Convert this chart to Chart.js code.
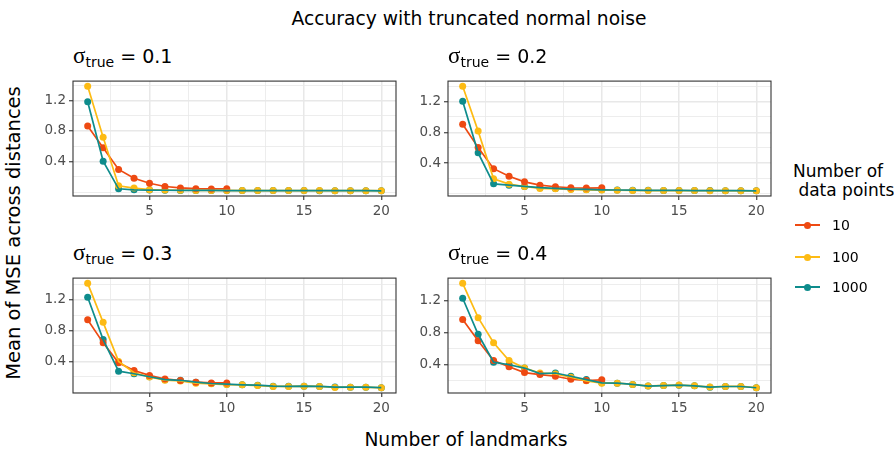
<!DOCTYPE html>
<html>
<head>
<meta charset="utf-8">
<title>Accuracy with truncated normal noise</title>
<script src="https://cdn.jsdelivr.net/npm/chart.js@4.4.1/dist/chart.umd.min.js"></script>
<style>
  body {
    margin: 0;
    width: 894px;
    height: 451px;
    position: relative;
    overflow: hidden;
    background: #fff;
    font-family: "DejaVu Sans", sans-serif;
    color: #000;
  }
  .panel { position: absolute; }
  .txt { position: absolute; white-space: pre; line-height: 1; }
  #title { left: 469px; top: 10px; font-size: 18.7px; transform: translateX(-50%); }
  #xtitle { left: 466px; top: 431px; font-size: 18.7px; transform: translateX(-50%); }
  #ytitle { left: 14px; top: 233px; font-size: 19.5px; transform: translate(-50%, -50%) rotate(-90deg); }
  .facet { font-size: 19px; }
  .facet .sig { font-family: "Liberation Serif", serif; font-size: 23px; }
  .facet sub { font-size: 14px; vertical-align: -4px; line-height: 0; }
  #legend-title { left: 793px; top: 162px; font-size: 17px; line-height: 19px; }
  .key { position: absolute; left: 795px; width: 25px; height: 2px; margin-top: -1px; }
  .key::after {
    content: ""; position: absolute; left: 9px; top: -2.5px;
    width: 7px; height: 7px; border-radius: 50%; background: inherit;
  }
  .keylab { left: 832px; font-size: 14px; }
</style>
</head>
<body>

<div class="txt" id="title">Accuracy with truncated normal noise</div>
<div class="txt" id="xtitle">Number of landmarks</div>
<div class="txt" id="ytitle">Mean of MSE across distances</div>
<div class="txt" id="legend-title">Number of
 data points</div>

<script>
// x values (number of landmarks)
const landmarks = [1, 2, 3, 4, 5, 6, 7, 8, 9, 10, 11, 12, 13, 14, 15, 16, 17, 18, 19, 20];

// groups (number of data points) and facets (true sigma)
const groups = ['10', '100', '1000'];
const groupColors = ['#ee4a12', '#fdbb14', '#0e8c8c'];
const sigmas = ['0.1', '0.2', '0.3', '0.4'];

// mean MSE, sigma_true = 0.1
const mse10_s1 = [0.865, 0.58, 0.297, 0.181, 0.116, 0.073, 0.055, 0.045, 0.041, 0.043];
const mse100_s1 = [1.385, 0.718, 0.082, 0.052, 0.032, 0.026, 0.024, 0.022, 0.021, 0.021, 0.02, 0.02, 0.02, 0.019, 0.019, 0.019, 0.018, 0.018, 0.018, 0.018];
const mse1000_s1 = [1.183, 0.404, 0.043, 0.03, 0.026, 0.024, 0.022, 0.021, 0.021, 0.02, 0.02, 0.02, 0.019, 0.019, 0.019, 0.018, 0.018, 0.018, 0.018, 0.017];

// sigma_true = 0.2
const mse10_s2 = [0.905, 0.601, 0.327, 0.229, 0.156, 0.113, 0.092, 0.079, 0.075, 0.079];
const mse100_s2 = [1.397, 0.815, 0.195, 0.126, 0.096, 0.071, 0.066, 0.058, 0.053, 0.049, 0.047, 0.045, 0.043, 0.043, 0.042, 0.042, 0.041, 0.041, 0.04, 0.04];
const mse1000_s2 = [1.204, 0.533, 0.13, 0.113, 0.096, 0.08, 0.07, 0.062, 0.058, 0.053, 0.05, 0.048, 0.046, 0.045, 0.044, 0.043, 0.042, 0.041, 0.041, 0.04];

// sigma_true = 0.3
const mse10_s3 = [0.939, 0.64, 0.383, 0.282, 0.219, 0.173, 0.152, 0.131, 0.122, 0.122];
const mse100_s3 = [1.41, 0.905, 0.4, 0.253, 0.198, 0.156, 0.147, 0.118, 0.11, 0.101, 0.097, 0.088, 0.076, 0.076, 0.08, 0.076, 0.063, 0.067, 0.067, 0.059];
const mse1000_s3 = [1.23, 0.682, 0.274, 0.24, 0.202, 0.164, 0.156, 0.131, 0.114, 0.105, 0.097, 0.093, 0.08, 0.078, 0.08, 0.076, 0.068, 0.067, 0.067, 0.06];

// sigma_true = 0.4
const mse10_s4 = [0.966, 0.7, 0.453, 0.375, 0.302, 0.277, 0.256, 0.219, 0.203, 0.211];
const mse100_s4 = [1.42, 0.99, 0.675, 0.453, 0.359, 0.297, 0.285, 0.244, 0.199, 0.17, 0.17, 0.154, 0.133, 0.142, 0.146, 0.137, 0.121, 0.129, 0.129, 0.113];
const mse1000_s4 = [1.233, 0.782, 0.433, 0.4, 0.359, 0.289, 0.297, 0.256, 0.215, 0.174, 0.17, 0.154, 0.133, 0.14, 0.144, 0.137, 0.12, 0.128, 0.128, 0.112];

// axis breaks
const xBreaks = [5, 10, 15, 20];
const yBreaks = [0.4, 0.8, 1.2];

// panel layout (px)
const PANEL_W = 323, PANEL_H = 116;
const Y_W = 45, X_H = 24, PAD_T = 10, PAD_R = 14;
const FONT = '"DejaVu Sans", sans-serif';

const panels = [
    { sigma: sigmas[0], series: [mse10_s1, mse100_s1, mse1000_s1], left: 73, top: 80 },
    { sigma: sigmas[1], series: [mse10_s2, mse100_s2, mse1000_s2], left: 448, top: 80 },
    { sigma: sigmas[2], series: [mse10_s3, mse100_s3, mse1000_s3], left: 73, top: 277 },
    { sigma: sigmas[3], series: [mse10_s4, mse100_s4, mse1000_s4], left: 448, top: 277 }
];

// ggplot style 5% expansion
function expand(lo, hi) {
    const r = hi - lo;
    return [lo - 0.05 * r, hi + 0.05 * r];
}

// majors plus halfway minors, kept inside the limits
function gridBreaks(majors, lo, hi) {
    const step = majors[1] - majors[0];
    const out = [];
    for (let v = majors[0] - step; v <= majors[majors.length - 1] + step + 1e-9; v += step / 2) {
        const r = Math.round(v * 1000) / 1000;
        if (r >= lo && r <= hi) out.push(r);
    }
    return out;
}

function isMajor(list, v) {
    return list.some(m => Math.abs(m - v) < 1e-9);
}

// panel border like theme_bw
const borderPlugin = {
    id: 'panelBorder',
    afterDraw(chart) {
        const a = chart.chartArea;
        const ctx = chart.ctx;
        ctx.save();
        ctx.strokeStyle = '#333333';
        ctx.lineWidth = 1.1;
        ctx.strokeRect(a.left, a.top, a.right - a.left, a.bottom - a.top);
        ctx.restore();
    }
};

function axisOptions(lo, hi, majors, fmt, fitSize) {
    const ticks = gridBreaks(majors, lo, hi);
    return {
        type: 'linear',
        min: lo,
        max: hi,
        afterBuildTicks: s => { s.ticks = ticks.map(v => ({ value: v })); },
        afterFit: fitSize,
        ticks: {
            autoSkip: false,
            maxRotation: 0,
            padding: 3,
            color: '#4d4d4d',
            font: { family: FONT, size: 13.5 },
            callback: v => isMajor(majors, v) ? fmt(v) : ''
        },
        grid: {
            color: '#e8e8e8',
            lineWidth: c => isMajor(majors, c.tick.value) ? 1.5 : 0.8,
            tickLength: 4,
            tickWidth: 1.1,
            tickColor: c => isMajor(majors, c.tick.value) ? '#333333' : 'rgba(0,0,0,0)'
        },
        border: { display: false }
    };
}

function makePanel(p) {
    const canvas = document.createElement('canvas');
    canvas.className = 'panel';
    canvas.width = Y_W + PANEL_W + PAD_R;
    canvas.height = PAD_T + PANEL_H + X_H;
    canvas.style.left = (p.left - Y_W) + 'px';
    canvas.style.top = (p.top - PAD_T) + 'px';
    document.body.appendChild(canvas);

    const allY = p.series.flat();
    const [yLo, yHi] = expand(Math.min(...allY), Math.max(...allY));
    const [xLo, xHi] = expand(landmarks[0], landmarks[landmarks.length - 1]);

    const datasets = [];
    p.series.forEach((vals, g) => {
        const pts = vals.map((v, i) => ({ x: landmarks[i], y: v }));
        // lines drawn above all points, 1000 on top
        datasets.push({
            label: groups[g],
            data: pts,
            showLine: true,
            borderColor: groupColors[g],
            borderWidth: 1.7,
            pointRadius: 0,
            order: 2 - g
        });
        datasets.push({
            label: groups[g],
            data: pts,
            showLine: false,
            pointRadius: 3.5,
            pointBorderWidth: 0,
            pointBackgroundColor: groupColors[g],
            order: 3 + g
        });
    });

    new Chart(canvas, {
        type: 'scatter',
        data: { datasets: datasets },
        options: {
            responsive: false,
            animation: false,
            devicePixelRatio: 1,
            layout: { padding: { top: PAD_T, right: PAD_R, left: 0, bottom: 0 } },
            plugins: { legend: { display: false }, tooltip: { enabled: false } },
            scales: {
                x: axisOptions(xLo, xHi, xBreaks, v => String(v), s => { s.height = X_H; }),
                y: axisOptions(yLo, yHi, yBreaks, v => v.toFixed(1), s => { s.width = Y_W; })
            }
        },
        plugins: [borderPlugin]
    });

    // facet strip text
    const lab = document.createElement('div');
    lab.className = 'txt facet';
    lab.style.left = p.left + 'px';
    lab.style.top = (p.top - 36) + 'px';
    lab.innerHTML = '<span class="sig">\u03c3</span><sub>true</sub> = ' + p.sigma;
    document.body.appendChild(lab);
}

panels.forEach(makePanel);

// legend
const legendY = [225, 257, 287];
groups.forEach((g, i) => {
    const key = document.createElement('div');
    key.className = 'key';
    key.style.top = legendY[i] + 'px';
    key.style.background = groupColors[i];
    document.body.appendChild(key);

    const t = document.createElement('div');
    t.className = 'txt keylab';
    t.style.top = (legendY[i] - 7) + 'px';
    t.textContent = g;
    document.body.appendChild(t);
});
</script>
</body>
</html>
